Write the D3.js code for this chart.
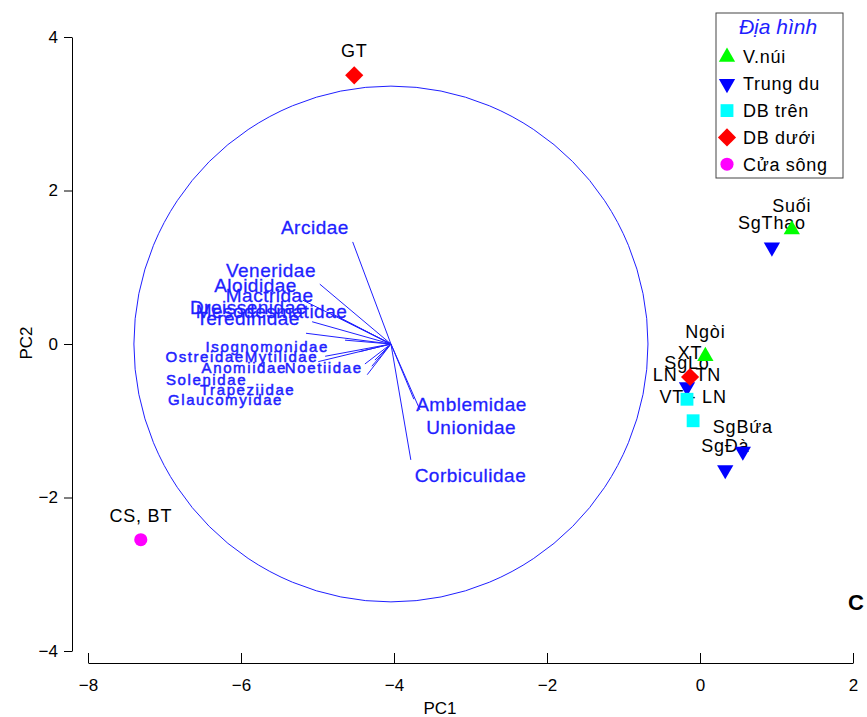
<!DOCTYPE html>
<html>
<head>
<meta charset="utf-8">
<script src="https://cdn.jsdelivr.net/npm/d3@7"></script>
<style>
  html, body { margin: 0; padding: 0; background: #fff; }
  svg { display: block; font-family: "Liberation Sans", Arial, sans-serif; }
</style>
</head>
<body>
<svg id="chart" width="867" height="717"></svg>
<script>
// ---- Data ----
const siteNames = ["GT", "CS, BT", "Suối", "SgThao", "Ngòi", "XT", "SgLô", "LN - TN", "VT - LN", "SgBứa", "SgĐà"];
const sitePC1   = [-4.52, -7.31, 1.20, 0.94, 0.07, -0.13, -0.17, -0.17, -0.09, 0.56, 0.33];
const sitePC2   = [ 3.50, -2.55, 1.49, 1.26, -0.16, -0.43, -0.56, -0.72, -1.00, -1.40, -1.64];
const siteGroup = ["DB dưới", "Cửa sông", "V.núi", "Trung du", "V.núi", "DB dưới", "Trung du", "DB trên", "DB trên", "Trung du", "Trung du"];

const groupNames = ["V.núi", "Trung du", "DB trên", "DB dưới", "Cửa sông"];
const legendTitle = "Địa hình";

const familyNames = ["Arcidae", "Veneridae", "Aloididae", "Mactridae", "Dreissenidae", "Mesodesmatidae",
  "Teredinidae", "Isognomonidae", "Ostreidae", "Mytilidae", "Anomiidae", "Noetiidae", "Solenidae",
  "Trapeziidae", "Glaucomyidae", "Amblemidae", "Unionidae", "Corbiculidae"];
// vector tips (PC1, PC2)
const familyPC1 = [-4.54, -4.97, -5.19, -4.78, -5.07, -4.71, -5.15, -4.64, -4.90, -4.99, -4.38, -4.35, -4.29, -4.25, -4.45, -3.66, -3.74, -3.78];
const familyPC2 = [ 1.33,  0.78,  0.57,  0.38,  0.29,  0.34,  0.14,  0.05, -0.16, -0.23, -0.26, -0.40, -0.29, -0.21, -0.10, -0.86, -0.72, -1.51];
// label anchor points (PC1, PC2)
const familyLabelPC1 = [-4.59, -5.02, -5.27, -5.05, -5.14, -4.61, -5.23, -4.85, -5.95, -4.99, -5.40, -4.41, -5.92, -5.29, -5.45, -3.71, -3.58, -3.73];
const familyLabelPC2 = [ 1.52,  0.96,  0.77,  0.64,  0.48,  0.43,  0.34, -0.03, -0.17, -0.17, -0.31, -0.31, -0.46, -0.59, -0.73, -0.79, -1.08, -1.71];

const vectorOrigin = [-4.04, 0.0];
const circleRadius = 3.36;

const xTicks = [-8, -6, -4, -2, 0, 2];
const yTicks = [-4, -2, 0, 2, 4];
const xTitle = "PC1", yTitle = "PC2";
const panelLetter = "C";

// ---- Styles ----
const groupColor = {"V.núi": "#00ff00", "Trung du": "#0000ff", "DB trên": "#00ffff", "DB dưới": "#ff0000", "Cửa sông": "#ff00ff"};
const groupSymbol = {
  "V.núi":   {type: d3.symbolTriangle, size: 115, rot: 0},
  "Trung du":{type: d3.symbolTriangle, size: 115, rot: 180},
  "DB trên": {type: d3.symbolSquare,   size: 165, rot: 0},
  "DB dưới": {type: d3.symbolSquare,   size: 165, rot: 45},
  "Cửa sông":{type: d3.symbolCircle,   size: 135, rot: 0}
};
const smallLabels = new Set(["Isognomonidae", "Ostreidae", "Mytilidae", "Anomiidae", "Noetiidae", "Solenidae", "Trapeziidae", "Glaucomyidae"]);
const vecColor = "#1f1fff";

const svg = d3.select("#chart");
const x = d3.scaleLinear().domain([-8, 2]).range([88, 853]);
const y = d3.scaleLinear().domain([-4, 4]).range([651, 37]);

// ---- Axes ----
const yAxis = d3.axisLeft(y).tickValues(yTicks).tickSize(8).tickSizeOuter(0).tickPadding(6);
const gy = svg.append("g").attr("transform", "translate(72,0)").call(yAxis);
gy.selectAll("text").attr("font-size", 17).attr("fill", "#000").attr("font-family", "Liberation Sans, Arial, sans-serif");
gy.selectAll("line,path").attr("stroke", "#000");

const xAxis = d3.axisBottom(x).tickValues(xTicks).tickSize(-10).tickSizeOuter(0).tickPadding(16);
const gx = svg.append("g").attr("transform", "translate(0,663)").call(xAxis);
gx.selectAll("text").attr("font-size", 17).attr("fill", "#000").attr("font-family", "Liberation Sans, Arial, sans-serif");
gx.selectAll("line,path").attr("stroke", "#000");

svg.append("text").attr("x", 440).attr("y", 714).attr("text-anchor", "middle")
  .attr("font-size", 17).text(xTitle);
svg.append("text").attr("transform", "translate(32,343) rotate(-90)").attr("text-anchor", "middle")
  .attr("font-size", 17).text(yTitle);

// ---- Circle ----
svg.append("ellipse")
  .attr("cx", x(vectorOrigin[0])).attr("cy", y(vectorOrigin[1]))
  .attr("rx", x(vectorOrigin[0] + circleRadius) - x(vectorOrigin[0]))
  .attr("ry", y(vectorOrigin[1]) - y(vectorOrigin[1] + circleRadius))
  .attr("fill", "none").attr("stroke", vecColor).attr("stroke-width", 1);

// ---- Vectors ----
const fam = familyNames.map((n, i) => ({n, x: familyPC1[i], y: familyPC2[i], lx: familyLabelPC1[i], ly: familyLabelPC2[i]}));
svg.append("g").selectAll("line").data(fam).join("line")
  .attr("x1", x(vectorOrigin[0])).attr("y1", y(vectorOrigin[1]))
  .attr("x2", d => x(d.x)).attr("y2", d => y(d.y))
  .attr("stroke", vecColor).attr("stroke-width", 1);

svg.append("g").selectAll("text").data(fam).join("text")
  .attr("x", d => x(d.lx)).attr("y", d => y(d.ly))
  .attr("dy", "0.36em")
  .attr("text-anchor", d => d.x < vectorOrigin[0] ? "end" : "start")
  .attr("font-size", d => smallLabels.has(d.n) ? 15 : 19)
  .attr("letter-spacing", d => smallLabels.has(d.n) ? "1.6px" : "0.5px")
  .attr("fill", vecColor)
  .attr("stroke", vecColor)
  .attr("stroke-width", d => smallLabels.has(d.n) ? 0.5 : 0.3)
  .text(d => d.n);

// ---- Sites ----
const sites = siteNames.map((n, i) => ({n, x: sitePC1[i], y: sitePC2[i], g: siteGroup[i]}));
svg.append("g").selectAll("text").data(sites).join("text")
  .attr("x", d => x(d.x)).attr("y", d => y(d.y) - 18)
  .attr("text-anchor", "middle").attr("font-size", 18).attr("letter-spacing", "0.8px")
  .attr("fill", "#000").text(d => d.n);

const sym = g => d3.symbol().type(groupSymbol[g].type).size(groupSymbol[g].size)();
const orderedSites = groupNames.flatMap(g => sites.filter(s => s.g === g));
svg.append("g").selectAll("path").data(orderedSites).join("path")
  .attr("d", d => sym(d.g))
  .attr("transform", d => `translate(${x(d.x)},${y(d.y)}) rotate(${groupSymbol[d.g].rot})`)
  .attr("fill", d => groupColor[d.g]);

// ---- Legend ----
const lg = svg.append("g").attr("transform", "translate(716,13)");
lg.append("rect").attr("x", 0).attr("y", 0).attr("width", 127).attr("height", 165)
  .attr("fill", "#fff").attr("stroke", "#444").attr("stroke-width", 1);
lg.append("text").attr("x", 62).attr("y", 21).attr("text-anchor", "middle")
  .attr("font-size", 21).attr("font-style", "italic").attr("fill", "#1f1fff").text(legendTitle);
const li = lg.selectAll("g.item").data(groupNames).join("g").attr("class", "item")
  .attr("transform", (d, i) => `translate(0,${44 + i * 26.8})`);
li.append("path").attr("d", d => sym(d))
  .attr("transform", d => `translate(11,0) rotate(${groupSymbol[d].rot})`)
  .attr("fill", d => groupColor[d]);
li.append("text").attr("x", 27).attr("y", 0).attr("dy", "0.35em")
  .attr("font-size", 18).attr("letter-spacing", "0.7px").attr("fill", "#000").text(d => d);

// ---- Panel letter ----
svg.append("text").attr("x", 848).attr("y", 610).attr("font-size", 22).attr("font-weight", "bold")
  .attr("fill", "#000").text(panelLetter);
</script>
</body>
</html>
